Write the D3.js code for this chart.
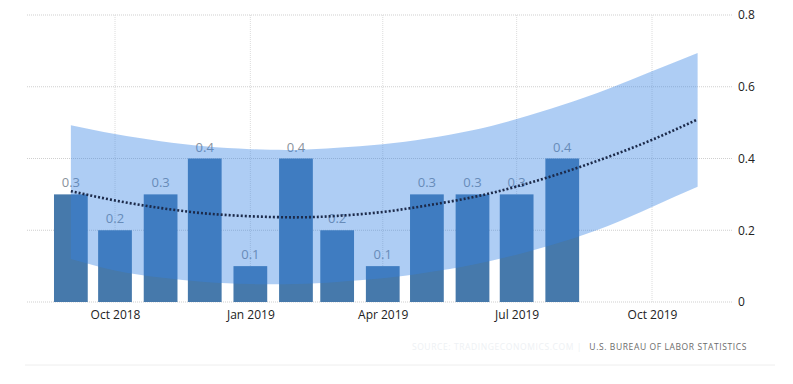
<!DOCTYPE html>
<html>
<head>
<meta charset="utf-8">
<script src="https://cdn.jsdelivr.net/npm/d3@7"></script>
<style>
  body { margin: 0; background: #fff; }
  svg { display: block; font-family: "Open Sans", "DejaVu Sans", sans-serif; }
</style>
</head>
<body>
<svg id="chart" width="793" height="384"></svg>
<script>
// monthly change, Sep 2018 .. Aug 2019
const barMonths = ['2018-09','2018-10','2018-11','2018-12','2019-01','2019-02',
                   '2019-03','2019-04','2019-05','2019-06','2019-07','2019-08']
const barValues = [0.3, 0.2, 0.3, 0.4, 0.1, 0.4, 0.2, 0.1, 0.3, 0.3, 0.3, 0.4]

// trend + forecast band, Sep 2018 .. Nov 2019
const trendMonths = ['2018-09','2018-10','2018-11','2018-12','2019-01','2019-02','2019-03','2019-04',
                     '2019-05','2019-06','2019-07','2019-08','2019-09','2019-10','2019-11']
const trendValues = [0.309, 0.283, 0.262, 0.247, 0.239, 0.236, 0.240, 0.251,
                     0.269, 0.292, 0.322, 0.360, 0.404, 0.452, 0.509]
const bandUpper   = [0.493, 0.468, 0.448, 0.434, 0.426, 0.424, 0.430, 0.440,
                     0.456, 0.479, 0.510, 0.549, 0.594, 0.643, 0.694]
const bandLower   = [0.120, 0.088, 0.068, 0.056, 0.050, 0.050, 0.056, 0.066,
                     0.082, 0.104, 0.132, 0.168, 0.212, 0.265, 0.321]

const yTicks = [0, 0.2, 0.4, 0.6, 0.8]
const sourceFaint = 'SOURCE: TRADINGECONOMICS.COM |'
const sourceText  = 'U.S. BUREAU OF LABOR STATISTICS'

const parse = d3.timeParse('%Y-%m')
const bars  = barMonths.map((m, i) => ({date: parse(m), value: barValues[i]}))
const trend = trendMonths.map((m, i) => ({date: parse(m), mid: trendValues[i], hi: bandUpper[i], lo: bandLower[i]}))

const svg = d3.select('#chart')
const plotL = 27, plotR = 733, plotT = 15, plotB = 302

const x = d3.scaleTime()
  .domain([new Date(2018, 9, 1), new Date(2019, 9, 1)])
  .range([115, 652])
const y = d3.scaleLinear().domain([0, 0.8]).range([plotB, plotT])

// grid
const grid = svg.append('g')
grid.selectAll('line.h').data(yTicks).join('line')
  .attr('x1', plotL).attr('x2', plotR)
  .attr('y1', d => y(d)).attr('y2', d => y(d))
  .attr('stroke', '#cfcfcf').attr('stroke-dasharray', '1,1')
const xTicks = x.ticks(d3.timeMonth.every(3))
grid.selectAll('line.v').data(xTicks).join('line')
  .attr('x1', d => x(d)).attr('x2', d => x(d))
  .attr('y1', plotT).attr('y2', plotB)
  .attr('stroke', '#dcdcdc').attr('stroke-dasharray', '1,1')

// bars
const monthW = x(new Date(2019, 1, 1)) - x(new Date(2019, 0, 1))
const bw = monthW * 0.74
svg.append('g').selectAll('rect').data(bars).join('rect')
  .attr('x', d => x(d.date) - bw / 2)
  .attr('y', d => y(d.value))
  .attr('width', bw)
  .attr('height', d => plotB - y(d.value))
  .attr('fill', '#4679ab')

// value labels
svg.append('g').selectAll('text').data(bars).join('text')
  .attr('x', d => x(d.date))
  .attr('y', d => y(d.value) - 7)
  .attr('text-anchor', 'middle')
  .attr('font-size', 13)
  .attr('fill', '#8a929c')
  .text(d => d.value.toFixed(1))

// forecast band
const area = d3.area()
  .x(d => x(d.date)).y0(d => y(d.lo)).y1(d => y(d.hi))
  .curve(d3.curveNatural)
svg.append('path').datum(trend)
  .attr('d', area)
  .attr('fill', 'rgba(52,130,227,0.4)')

// trend line
const line = d3.line().x(d => x(d.date)).y(d => y(d.mid)).curve(d3.curveNatural)
svg.append('path').datum(trend)
  .attr('d', line)
  .attr('fill', 'none')
  .attr('stroke', '#1c2a4a')
  .attr('stroke-width', 2.6)
  .attr('stroke-dasharray', '2,2')

// axes
const xAxis = svg.append('g')
  .attr('transform', `translate(0,${plotB + 4})`)
  .call(d3.axisBottom(x).tickValues(xTicks).tickSize(0).tickPadding(4)
    .tickFormat(d3.timeFormat('%b %Y')))
xAxis.select('.domain').remove()
xAxis.selectAll('text').attr('font-size', 12).attr('fill', '#222')
  .attr('font-family', '"Open Sans", sans-serif')

const yAxis = svg.append('g')
  .attr('transform', `translate(${plotR},0)`)
  .call(d3.axisRight(y).tickValues(yTicks).tickSize(0).tickPadding(5)
    .tickFormat(d => d === 0 ? '0' : d.toFixed(1)))
yAxis.select('.domain').remove()
yAxis.selectAll('text').attr('font-size', 12).attr('fill', '#222')
  .attr('font-family', '"Open Sans", sans-serif')

// source
svg.append('text')
  .attr('x', 582).attr('y', 350)
  .attr('text-anchor', 'end')
  .attr('font-size', 8.5).attr('letter-spacing', 0.6)
  .attr('fill', '#eef1f4')
  .text(sourceFaint)
svg.append('text')
  .attr('x', 747).attr('y', 350)
  .attr('text-anchor', 'end')
  .attr('font-size', 8.5).attr('letter-spacing', 0.6)
  .attr('fill', '#6b6b6b')
  .text(sourceText)

svg.append('line')
  .attr('x1', 25).attr('x2', 775).attr('y1', 365).attr('y2', 365)
  .attr('stroke', '#eeeeee')
</script>
</body>
</html>
